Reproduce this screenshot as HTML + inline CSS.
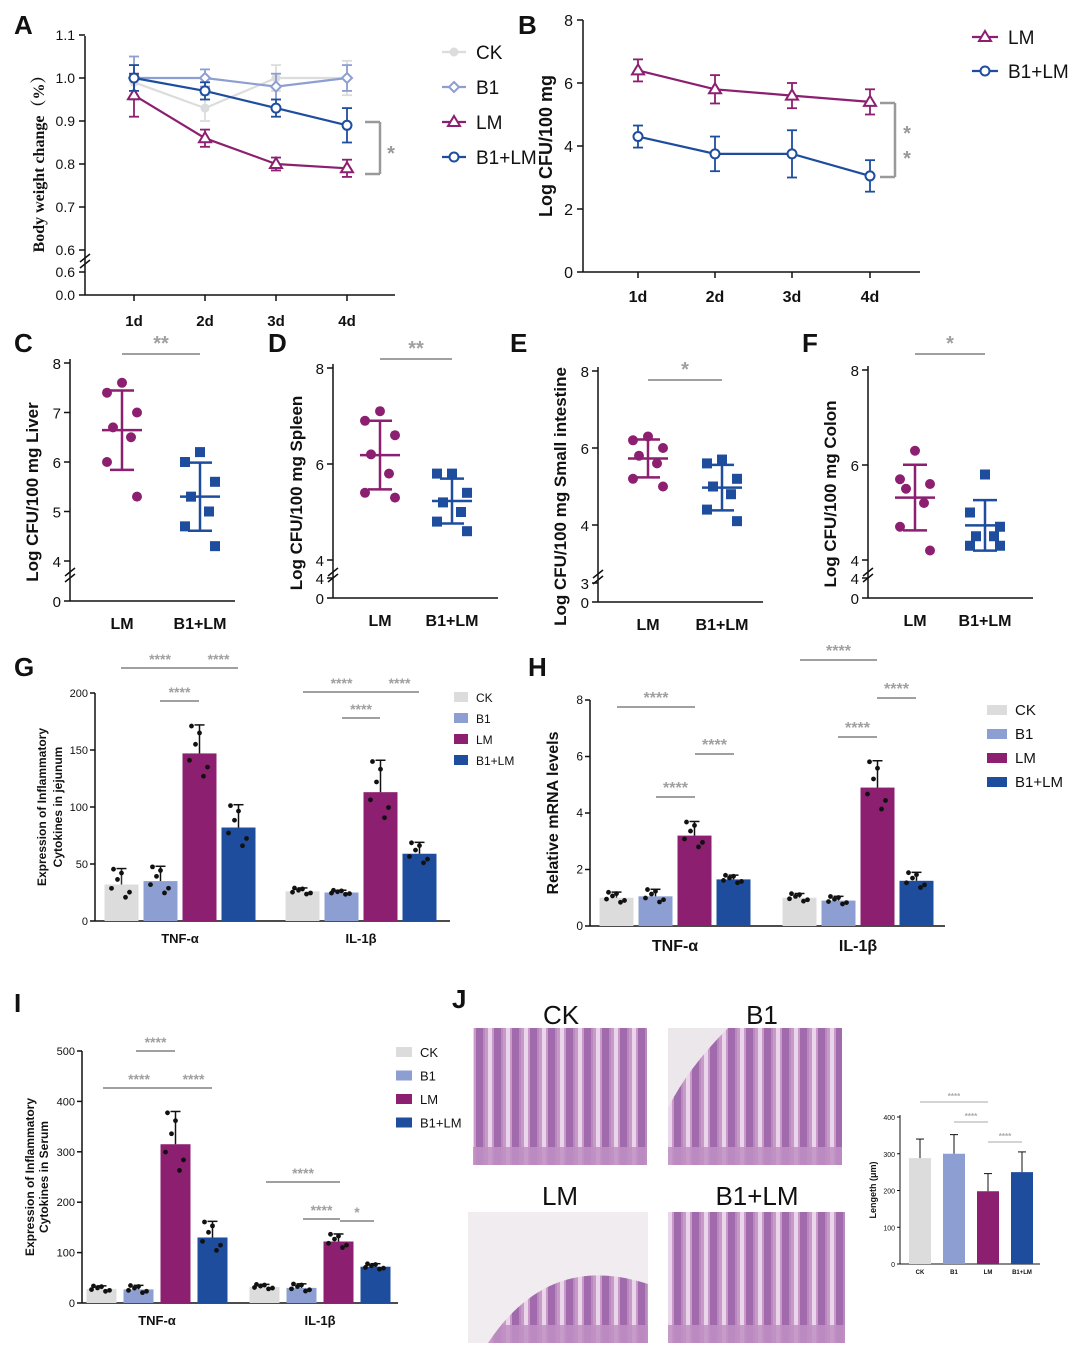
<!DOCTYPE html>
<html><head><meta charset="utf-8"><style>
body{margin:0;background:#fff}
svg{display:block;font-family:"Liberation Sans",Arial,sans-serif}
</style></head><body>
<svg id="fig" width="1080" height="1355" viewBox="0 0 1080 1355" xmlns="http://www.w3.org/2000/svg">
<defs>
<pattern id="villi" width="18" height="140" patternUnits="userSpaceOnUse">
<rect width="18" height="140" fill="#c99ac8"/>
<rect x="2" y="0" width="4" height="140" fill="#ead6ea"/>
<rect x="8" y="0" width="7" height="140" fill="#a16aac"/>
<rect x="15" y="0" width="2" height="140" fill="#b889bd"/>
</pattern>
</defs>
</svg>
<script>
// ---------- DATA ----------
const days=['1d','2d','3d','4d'];
const aCK=[0.99,0.93,1.00,1.00], aCKe=[0.04,0.03,0.03,0.04];
const aB1=[1.00,1.00,0.98,1.00], aB1e=[0.05,0.02,0.03,0.03];
const aLM=[0.96,0.86,0.80,0.79], aLMe=[0.05,0.02,0.015,0.02];
const aBL=[1.00,0.97,0.93,0.89], aBLe=[0.03,0.02,0.02,0.04];
const aTicks=[1.1,1.0,0.9,0.8,0.7,0.6];
const bLM=[6.4,5.8,5.6,5.4], bLMe=[0.35,0.45,0.4,0.4];
const bBL=[4.3,3.75,3.75,3.05], bBLe=[0.35,0.55,0.75,0.5];
const bTicks=[0,2,4,6,8];
const groups2=['LM','B1+LM'];
const cLM=[7.6,7.4,7.0,6.7,6.5,6.0,5.3], cBL=[6.2,6.0,5.6,5.3,5.0,4.7,4.3];
const dLM=[7.1,6.9,6.6,6.2,5.8,5.4,5.3], dBL=[5.8,5.8,5.4,5.2,5.0,4.8,4.6];
const eLM=[6.3,6.2,6.0,5.8,5.6,5.2,5.0], eBL=[5.7,5.6,5.2,5.0,4.8,4.4,4.1];
const fLM=[6.3,5.7,5.6,5.5,5.2,4.7,4.2], fBL=[5.8,5.0,4.7,4.5,4.5,4.3,4.3];
const series4=['CK','B1','LM','B1+LM'];
const cyto=['TNF-α','IL-1β'];
const gTNF=[32,35,147,82], gTNFe=[14,13,25,20], gIL=[26,25,113,59], gILe=[3,2,28,10];
const gTicks=[0,50,100,150,200];
const hTNF=[1.0,1.05,3.2,1.65], hTNFe=[0.2,0.25,0.5,0.15], hIL=[1.0,0.9,4.9,1.6], hILe=[0.15,0.15,0.95,0.3];
const hTicks=[0,2,4,6,8];
const iTNF=[28,27,315,130], iTNFe=[6,8,65,32], iIL=[32,30,122,72], iILe=[5,8,15,6];
const iTicks=[0,100,200,300,400,500];
const jLen=[288,300,198,250], jLenE=[52,52,48,55];
const jTicks=[0,100,200,300,400];

const COL={CK:'#dcdcdc',B1:'#8d9fd2',LM:'#8c1f6f','B1+LM':'#1e4d9e'};
const S=document.getElementById('fig');
const NS='http://www.w3.org/2000/svg';
function mk(tag,attrs,name,parent){
  const e=document.createElementNS(NS,tag);
  for(const k in attrs)e.setAttribute(k,attrs[k]);
  
  
  (parent||S).appendChild(e);return e;
}
function txt(x,y,s,name,o){
  o=o||{};
  const t=mk('text',{x:x,y:y,'font-size':o.fs||14,'text-anchor':o.a||'middle',fill:o.fill||'#111','font-weight':o.fw||'normal','font-family':o.ff||'"Liberation Sans",Arial,sans-serif'},name);
  if(o.rot)t.setAttribute('transform','rotate(-90 '+x+' '+y+')');
  t.textContent=s;return t;
}
function line(x1,y1,x2,y2,name,c,w){return mk('line',{x1:x1,y1:y1,x2:x2,y2:y2,stroke:c||'#111','stroke-width':w||1.5},name);}
function letter(x,y,s){txt(x,y,s,'panel-label-'+s,{fs:26,fw:'bold',a:'start'});}
function errbar(x,yT,yB,cap,c,name,w){line(x,yT,x,yB,name,c,w||1.8);line(x-cap,yT,x+cap,yT,name+'-cap',c,w||1.8);line(x-cap,yB,x+cap,yB,name+'-cap',c,w||1.8);}
function sig(x1,x2,y,stars,name,fs){line(x1,y,x2,y,name+'-line','#a0a0a0',2);txt((x1+x2)/2,y-4,stars,name+'-stars',{fs:fs||16,fill:'#a0a0a0',fw:'bold'});}
function brk(x,y){line(x-5,y+4,x+5,y-4,'axis-break','#111',1.5);line(x-5,y+10,x+5,y+2,'axis-break','#111',1.5);}

// ---------- PANEL A ----------
letter(14,34,'A');
(function(){
  const ax=85, xs=[134,205,276,347];
  const ya=v=>78-(v-1.0)*430;
  line(ax,36,ax,295,'a-y-axis');line(ax,295,395,295,'a-x-axis');
  aTicks.forEach(t=>{line(ax-6,ya(t),ax,ya(t),'a-y-tick');txt(ax-10,ya(t)+5,t.toFixed(1),'a-y-tick-label',{a:'end',fs:14});});
  line(ax-6,272,ax,272,'a-y-tick');txt(ax-10,277,'0.6','a-y-tick-label',{a:'end'});
  line(ax-6,295,ax,295,'a-y-tick');txt(ax-10,300,'0.0','a-y-tick-label',{a:'end'});
  brk(ax,258);
  days.forEach((d,i)=>{line(xs[i],295,xs[i],301,'a-x-tick');txt(xs[i],326,d,'a-x-tick-label',{fw:'bold',fs:15});});
  txt(44,160,'Body weight change（%）','a-y-axis-title',{rot:1,fs:16,fw:'bold',ff:'"Liberation Serif","Noto Serif CJK SC",serif'});
  const sets=[[aCK,aCKe,'CK','circle'],[aB1,aB1e,'B1','diamond'],[aLM,aLMe,'LM','tri'],[aBL,aBLe,'B1+LM','ocircle']];
  sets.forEach(([v,e,n,m])=>{
    const c=COL[n];
    mk('polyline',{points:v.map((d,i)=>xs[i]+','+ya(d)).join(' '),fill:'none',stroke:c,'stroke-width':2.2},'a-line-'+n);
    v.forEach((d,i)=>{errbar(xs[i],ya(d+e[i]),ya(d-e[i]),5,c,'a-err-'+n);marker(xs[i],ya(d),m,c,'a-point-'+n);});
  });
  line(365,122,380,122,'a-bracket','#999',2.5);line(380,122,380,174,'a-bracket','#999',2.5);line(365,174,380,174,'a-bracket','#999',2.5);
  txt(391,160,'*','a-sig',{fs:20,fill:'#999',fw:'bold'});
  sets.forEach(([v,e,n,m],i)=>{const y=52+35*i;line(442,y,466,y,'a-legend-line-'+n,COL[n],2.2);marker(454,y,m,COL[n],'a-legend-marker-'+n);txt(476,y+7,n,'a-legend-label-'+n,{a:'start',fs:19});});
})();
function marker(x,y,m,c,name){
  if(m==='circle')mk('circle',{cx:x,cy:y,r:4.5,fill:c},name);
  else if(m==='diamond')mk('polygon',{points:`${x},${y-5} ${x+5},${y} ${x},${y+5} ${x-5},${y}`,fill:'#fff',stroke:c,'stroke-width':2},name);
  else if(m==='tri')mk('polygon',{points:`${x},${y-6} ${x+6},${y+4} ${x-6},${y+4}`,fill:'#fff',stroke:c,'stroke-width':2},name);
  else mk('circle',{cx:x,cy:y,r:4.5,fill:'#fff',stroke:c,'stroke-width':2},name);
}

// ---------- PANEL B ----------
letter(518,34,'B');
(function(){
  const ax=583, xs=[638,715,792,870], yb=v=>272-v*31.5;
  line(ax,20,ax,272,'b-y-axis');line(ax,272,920,272,'b-x-axis');
  bTicks.forEach(t=>{line(ax-6,yb(t),ax,yb(t),'b-y-tick');txt(ax-10,yb(t)+6,t,'b-y-tick-label',{a:'end',fs:16});});
  days.forEach((d,i)=>{line(xs[i],272,xs[i],278,'b-x-tick');txt(xs[i],302,d,'b-x-tick-label',{fw:'bold',fs:16});});
  txt(552,146,'Log CFU/100 mg','b-y-axis-title',{rot:1,fs:18,fw:'bold'});
  [[bLM,bLMe,'LM','tri'],[bBL,bBLe,'B1+LM','ocircle']].forEach(([v,e,n,m],k)=>{
    const c=COL[n];
    mk('polyline',{points:v.map((d,i)=>xs[i]+','+yb(d)).join(' '),fill:'none',stroke:c,'stroke-width':2.2},'b-line-'+n);
    v.forEach((d,i)=>{errbar(xs[i],yb(d+e[i]),yb(d-e[i]),5,c,'b-err-'+n);marker(xs[i],yb(d),m,c,'b-point-'+n);});
    const y=37+34*k;line(972,y,998,y,'b-legend-line-'+n,c,2.2);marker(985,y,m,c,'b-legend-marker-'+n);txt(1008,y+7,n,'b-legend-label-'+n,{a:'start',fs:19});
  });
  line(880,103,895,103,'b-bracket','#999',2.5);line(895,103,895,177,'b-bracket','#999',2.5);line(880,177,895,177,'b-bracket','#999',2.5);
  txt(907,140,'*','b-sig',{fs:20,fill:'#999',fw:'bold'});txt(907,165,'*','b-sig',{fs:20,fill:'#999',fw:'bold'});
})();

// ---------- SCATTER PANELS C-F ----------
function scatter(c){
  const y=v=>c.yTop+(c.tTop-v)*c.k;
  letter(c.lx,352,c.L);
  line(c.ax,c.yTop-4,c.ax,c.y0,c.L+'-y-axis');line(c.ax,c.y0,c.ax+165,c.y0,c.L+'-x-axis');
  c.ticks.forEach(t=>{line(c.ax-6,y(t),c.ax,y(t),c.L+'-y-tick');txt(c.ax-9,y(t)+6,t,c.L+'-y-tick-label',{a:'end',fs:15});});
  c.low.forEach(([t,py])=>{line(c.ax-6,py,c.ax,py,c.L+'-y-tick');txt(c.ax-9,py+6,t,c.L+'-y-tick-label',{a:'end',fs:15});});
  brk(c.ax,c.brkY);
  txt(c.xs[0],c.y0+28,'LM',c.L+'-x-tick-label',{fw:'bold',fs:16});txt(c.xs[1],c.y0+28,'B1+LM',c.L+'-x-tick-label',{fw:'bold',fs:16});
  txt(c.tx,(c.yTop+c.y0)/2+10,c.title,c.L+'-y-axis-title',{rot:1,fs:17,fw:'bold'});
  [[c.lm,'LM'],[c.bl,'B1+LM']].forEach(([v,n],g)=>{
    const col=COL[n],x=c.xs[g];
    const m=v.reduce((a,b)=>a+b,0)/v.length,sd=Math.sqrt(v.reduce((a,b)=>a+(b-m)*(b-m),0)/(v.length-1));
    line(x,y(m+sd),x,y(m-sd),c.L+'-sd-'+n,col,2.5);
    line(x-12,y(m+sd),x+12,y(m+sd),c.L+'-sd-cap-'+n,col,2.5);line(x-12,y(m-sd),x+12,y(m-sd),c.L+'-sd-cap-'+n,col,2.5);
    line(x-20,y(m),x+20,y(m),c.L+'-mean-'+n,col,2.5);
    const off=[0,-15,15,-9,9,-15,15];
    v.forEach((d,i)=>{
      if(g===0)mk('circle',{cx:x+off[i],cy:y(d),r:5,fill:col},c.L+'-point-'+n);
      else mk('rect',{x:x+off[i]-5,y:y(d)-5,width:10,height:10,fill:col},c.L+'-point-'+n);
    });
  });
  sig(c.xs[0],c.xs[1],c.sigY,c.stars,c.L+'-sig',20);
}
scatter({L:'C',lx:14,ax:70,yTop:363,tTop:8,k:49.5,y0:601,brkY:572,ticks:[8,7,6,5,4],low:[['0',601]],xs:[122,200],lm:cLM,bl:cBL,title:'Log CFU/100 mg Liver',tx:38,sigY:354,stars:'**'});
scatter({L:'D',lx:268,ax:333,yTop:368,tTop:8,k:48,y0:598,brkY:572,ticks:[8,6,4],low:[['4',578],['0',598]],xs:[380,452],lm:dLM,bl:dBL,title:'Log CFU/100 mg Spleen',tx:302,sigY:359,stars:'**'});
scatter({L:'E',lx:510,ax:598,yTop:371,tTop:8,k:38.5,y0:602,brkY:574,ticks:[8,6,4],low:[['3',583],['0',602]],xs:[648,722],lm:eLM,bl:eBL,title:'Log CFU/100 mg Small intestine',tx:566,sigY:380,stars:'*'});
scatter({L:'F',lx:802,ax:868,yTop:370,tTop:8,k:47.5,y0:598,brkY:572,ticks:[8,6,4],low:[['4',578],['0',598]],xs:[915,985],lm:fLM,bl:fBL,title:'Log CFU/100 mg Colon',tx:836,sigY:354,stars:'*'});

// ---------- BAR PANELS ----------
function bars(c){
  const y=v=>c.y0-v*c.k;
  letter(c.lx,c.ly,c.L);
  line(c.ax,c.yTop,c.ax,c.y0,c.L+'-y-axis');line(c.ax,c.y0,c.xEnd,c.y0,c.L+'-x-axis');
  c.ticks.forEach(t=>{line(c.ax-5,y(t),c.ax,y(t),c.L+'-y-tick');txt(c.ax-7,y(t)+4,t,c.L+'-y-tick-label',{a:'end',fs:c.tfs||11});});
  [[c.tnf,c.tnfe],[c.il,c.ile]].forEach(([v,e],g)=>{
    txt(c.centers[g],c.y0+c.xlo,cyto[g],c.L+'-x-tick-label',{fw:'bold',fs:c.xfs||13});
    v.forEach((d,i)=>{
      const n=series4[i],x=c.centers[g]+(i-1.5)*c.gap;
      mk('rect',{x:x-c.w/2,y:y(d),width:c.w,height:c.y0-y(d),fill:COL[n]},c.L+'-bar-'+cyto[g]+'-'+n);
      line(x,y(d),x,y(d+e[i]),c.L+'-err',n==='CK'?'#333':'#111',1.5);line(x-5,y(d+e[i]),x+5,y(d+e[i]),c.L+'-err-cap','#111',1.5);
      if(c.dots){const off=[-8,8,-4,4,0,-10];const sp=[0.6,-0.3,0.2,-0.5,0.45,-0.15];
        off.forEach((o,j)=>mk('circle',{cx:x+o,cy:y(Math.max(0,d+sp[j]*e[i]*1.6)),r:2.4,fill:'#111'},c.L+'-dot'));}
    });
  });
  if(c.legend)series4.forEach((n,i)=>{const ly=c.legend[1]+i*c.legend[2];
    mk('rect',{x:c.legend[0],y:ly-6,width:c.legend[3],height:10,fill:COL[n]},c.L+'-legend-swatch-'+n);
    txt(c.legend[0]+c.legend[3]+8,ly+4,n,c.L+'-legend-label-'+n,{a:'start',fs:c.legend[4]});});
  if(c.title)c.title.forEach((t,i)=>txt(c.tx+i*c.tdx,(c.yTop+c.y0)/2,t,c.L+'-y-axis-title',{rot:1,fs:c.titfs||12,fw:'bold'}));
  c.sigs.forEach(s=>sig(s[0],s[1],s[2],s[3],c.L+'-sig',s[4]||14));
}
bars({L:'G',lx:14,ly:676,ax:95,yTop:693,y0:921,k:1.14,xEnd:450,ticks:gTicks,tnf:gTNF,tnfe:gTNFe,il:gIL,ile:gILe,centers:[180,361],gap:39,w:34,xlo:22,dots:true,
  legend:[454,698,21,14,12],title:['Expression of Inflammatory','Cytokines in jejunum'],tx:46,tdx:16,
  sigs:[[121,199,668,'****'],[199,238,668,'****'],[160,199,701,'****'],[303,380,692,'****'],[380,419,692,'****'],[342,380,718,'****']]});
bars({L:'H',lx:528,ly:676,ax:590,yTop:700,y0:926,k:28.25,xEnd:945,ticks:hTicks,tnf:hTNF,tnfe:hTNFe,il:hIL,ile:hILe,centers:[675,858],gap:39,w:34,xlo:25,xfs:16,tfs:12,dots:true,
  legend:[987,711,24,20,15],title:['Relative mRNA levels'],tx:558,tdx:0,titfs:16,
  sigs:[[617,695,707,'****',16],[695,734,754,'****',16],[656,695,797,'****',16],[800,877,660,'****',16],[877,916,698,'****',16],[838,877,737,'****',16]]});
bars({L:'I',lx:14,ly:1012,ax:82,yTop:1051,y0:1303,k:0.504,xEnd:398,ticks:iTicks,tnf:iTNF,tnfe:iTNFe,il:iIL,ile:iILe,centers:[157,320],gap:37,w:30,xlo:22,dots:true,
  legend:[396,1053,23.5,16,13],title:['Expression of Inflammatory','Cytokines in Serum'],tx:34,tdx:14,
  sigs:[[136,175,1051,'****'],[103,175,1088,'****'],[175,212,1088,'****'],[266,340,1182,'****'],[303,340,1219,'****'],[340,374,1221,'*']]});

// ---------- PANEL J ----------
letter(452,1008,'J');
[['CK',473,1028,174,137,561,1024],['B1',668,1028,174,137,762,1024],['LM',468,1212,180,131,560,1205],['B1+LM',668,1212,177,131,757,1205]].forEach(([n,x,y,w,h,lx,ly])=>{
  mk('rect',{x:x,y:y,width:w,height:h,fill:'url(#villi)'},'histology-image-'+n);
  mk('rect',{x:x,y:y+h-18,width:w,height:18,fill:'#c08fc3',opacity:0.85},'histology-muscle-'+n);
  if(n==='LM')mk('path',{d:`M${x} ${y} L${x+w} ${y} L${x+w} ${y+h*0.55} Q${x+w*0.45} ${y+h*0.3} ${x+20} ${y+h} L${x} ${y+h} Z`,fill:'#f1ecef'},'histology-lumen-'+n);
  if(n==='B1')mk('path',{d:`M${x} ${y} L${x+60} ${y} Q${x+20} ${y+40} ${x} ${y+80} Z`,fill:'#ece7ea'},'histology-lumen-'+n);
  txt(lx,ly,n,'histology-label-'+n,{fs:26});
});
(function(){
  const ax=900,y0=1264,k=0.3675,y=v=>y0-v*k,xs=[920,954,988,1022];
  line(ax,1115,ax,y0,'j-y-axis',null,1);line(ax,y0,1040,y0,'j-x-axis',null,1);
  jTicks.forEach(t=>{line(ax-3,y(t),ax,y(t),'j-y-tick',null,1);txt(ax-5,y(t)+3,t,'j-y-tick-label',{a:'end',fs:7});});
  txt(876,1190,'Lengeth (μm)','j-y-axis-title',{rot:1,fs:9,fw:'bold'});
  jLen.forEach((d,i)=>{const n=series4[i];
    mk('rect',{x:xs[i]-11,y:y(d),width:22,height:y0-y(d),fill:COL[n]},'j-bar-'+n);
    line(xs[i],y(d),xs[i],y(d+jLenE[i]),'j-err',null,1);line(xs[i]-4,y(d+jLenE[i]),xs[i]+4,y(d+jLenE[i]),'j-err-cap',null,1);
    txt(xs[i],y0+10,n,'j-x-tick-label',{fs:6,fw:'bold'});});
  [[920,988,1102],[954,988,1122],[988,1022,1142]].forEach(s=>{line(s[0],s[2],s[1],s[2],'j-sig-line','#aaa',1);txt((s[0]+s[1])/2,s[2]-3,'****','j-sig-stars',{fs:8,fill:'#aaa',fw:'bold'});});
})();
</script>
</body></html>
